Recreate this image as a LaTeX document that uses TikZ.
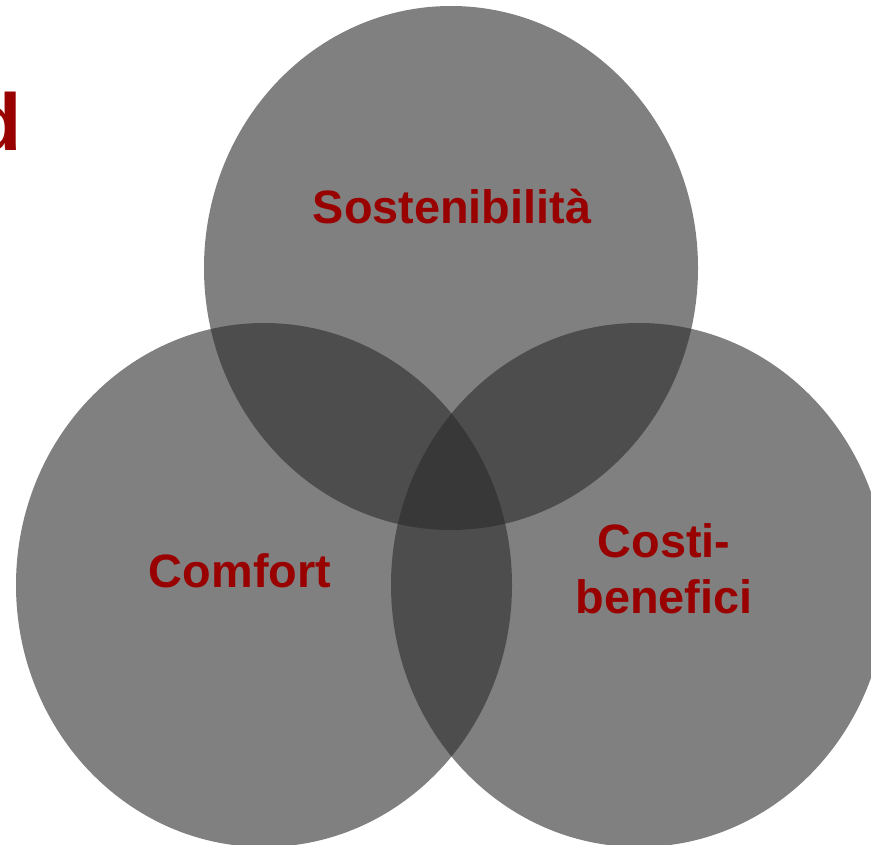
\documentclass[tikz,border=0pt]{standalone}
\usepackage{fontspec}
\setmainfont{Liberation Sans}
\definecolor{lblcol}{RGB}{153,0,0}
\definecolor{disccol}{RGB}{43,43,43}
\begin{document}
\begin{tikzpicture}[x=1bp,y=-1bp,
  disc/.style={fill=disccol, fill opacity=0.6, draw=none},
  lbl/.style={text=lblcol, font=\bfseries\fontsize{47}{56}\selectfont, inner sep=0pt, align=center}]
\useasboundingbox (0,0) rectangle (871,845);
\clip (0,0) rectangle (871,845);
\fill[disc] (451,268) ellipse [x radius=247bp, y radius=262bp];
\fill[disc] (264,585) ellipse [x radius=248bp, y radius=262bp];
\fill[disc] (639,585) ellipse [x radius=248bp, y radius=262bp];
\node[lbl, anchor=base] (sost) at (452,223) {Sostenibilità};
\node[lbl, anchor=base] (comf) at (240,587) {Comfort};
\node[lbl, anchor=base] (cost) at (664,613) {Costi-\\benefici};
\node[text=lblcol, font=\bfseries\fontsize{81}{90}\selectfont, inner sep=0pt, anchor=base east] (title) at (22,150) {d};
\end{tikzpicture}
\end{document}
